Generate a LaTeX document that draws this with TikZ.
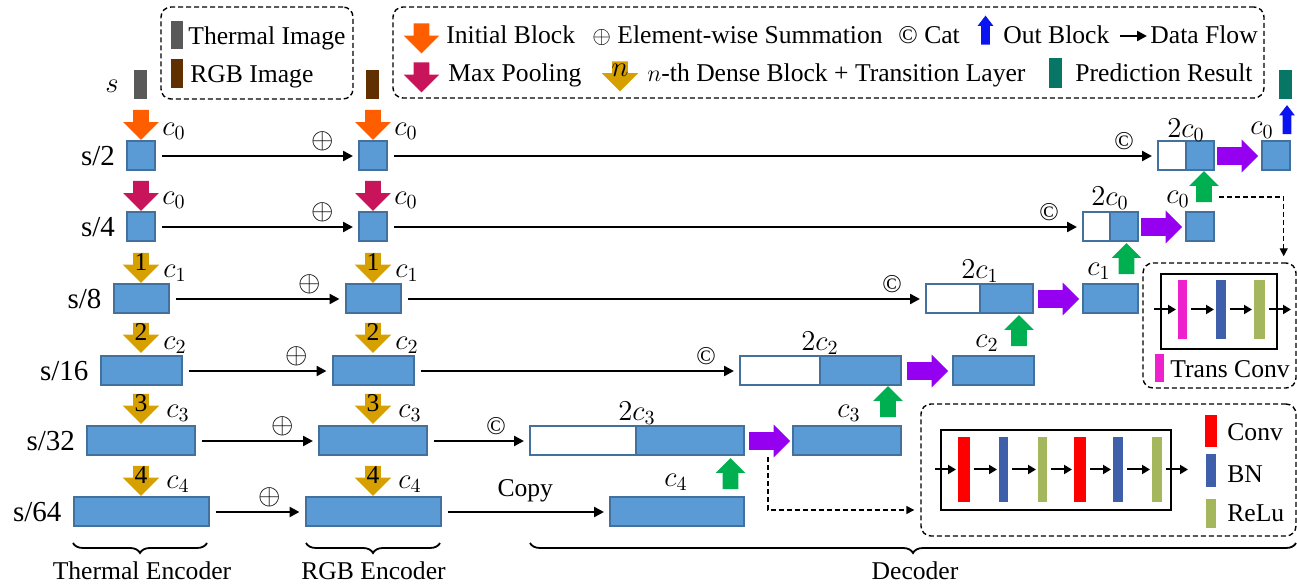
\documentclass[tikz,border=0pt]{standalone}
\usepackage{amsmath}
\usepackage{fontspec}
\setmainfont{Liberation Serif}
\usetikzlibrary{positioning}
\usetikzlibrary{calc}
\usetikzlibrary{arrows.meta}
\usetikzlibrary{shapes.arrows}
\usetikzlibrary{decorations.pathreplacing}

\definecolor{blkfill}{RGB}{91,155,213}
\definecolor{blkdraw}{RGB}{65,113,156}
\definecolor{initcol}{RGB}{255,94,0}
\definecolor{poolcol}{RGB}{200,20,90}
\definecolor{densecol}{RGB}{214,160,0}
\definecolor{upcol}{RGB}{0,176,80}
\definecolor{catcol}{RGB}{150,0,240}
\definecolor{outcol}{RGB}{10,20,240}
\definecolor{thermcol}{RGB}{89,89,89}
\definecolor{rgbcol}{RGB}{96,48,0}
\definecolor{predcol}{RGB}{8,118,100}
\definecolor{transcol}{RGB}{238,34,204}
\definecolor{convcol}{RGB}{255,0,0}
\definecolor{bncol}{RGB}{63,95,170}
\definecolor{relucol}{RGB}{165,183,93}

\tikzset{
  blk/.style={draw=blkdraw,fill=blkfill,line width=1pt,outer sep=0pt,inner sep=0pt,minimum height=14.5pt},
  catw/.style={blk,fill=white},
  bar/.style={inner sep=0pt,outer sep=0pt},
  flow/.style={-{Triangle[length=5pt,width=5pt]},line width=1.2pt,shorten <=3.5pt,shorten >=3pt},
  sflow/.style={-{Triangle[length=4pt,width=4.5pt]},line width=1pt,shorten <=2pt,shorten >=1pt},
  dflow/.style={-{Triangle[length=4pt,width=4pt]},line width=0.7pt,dash pattern=on 2.5pt off 1.5pt,shorten >=3pt},
  dbox/.style={draw,line width=0.7pt,dash pattern=on 2.5pt off 1.5pt,rounded corners=5pt,inner sep=0pt},
  sbox/.style={draw,line width=0.7pt,inner sep=0pt},
  fat/.style={single arrow,inner xsep=0pt,outer sep=0pt},
  initarr/.style={fat,fill=initcol,rotate=-90,inner ysep=3.75pt,minimum width=17.5pt,minimum height=15pt,single arrow head extend=5pt},
  poolarr/.style={fat,fill=poolcol,rotate=-90,inner ysep=3.75pt,minimum width=17.5pt,minimum height=15pt,single arrow head extend=5pt},
  densearr/.style={fat,fill=densecol,rotate=-90,inner ysep=3.75pt,minimum width=18pt,minimum height=15pt,single arrow head extend=5.25pt},
  uparr/.style={fat,fill=upcol,rotate=90,inner ysep=3.75pt,minimum width=14.5pt,minimum height=15.5pt,single arrow head extend=3.5pt},
  catarr/.style={fat,fill=catcol,inner ysep=4.25pt,minimum width=16pt,minimum height=20.5pt,single arrow head extend=3.75pt},
  outarr/.style={fat,fill=outcol,rotate=90,inner ysep=2pt,minimum width=7.5pt,minimum height=14.5pt,single arrow head extend=1.75pt,single arrow tip angle=75},
  lbl/.style={font=\fontsize{14.5}{17}\selectfont},
  scl/.style={font=\fontsize{14.5}{17}\selectfont},
  plussym/.style={pos=1,xshift=-18pt,yshift=7.5pt,inner sep=0pt,font=\fontsize{15}{17}\selectfont},
  catsym/.style={pos=1,xshift=-17pt,yshift=7.5pt,inner sep=0pt},
  txt/.style={inner sep=1.5pt,anchor=base west},
  brc/.style={decorate,decoration={brace,amplitude=5pt},line width=0.9pt}
}

\begin{document}
\begin{tikzpicture}[x=0.5pt,y=-0.5pt,font=\fontsize{12.8}{15}\selectfont]
  \useasboundingbox (0,0) rectangle (1297,587);
  % legends
  \node[dbox,minimum width=96pt,minimum height=46pt](leg1) at (257,53) {};
  \node[bar,fill=thermcol,minimum width=6pt,minimum height=14pt](lth) at (177,35) {};
  \node[txt](lthtxt) at (185,45) {Thermal Image};
  \node[bar,fill=rgbcol,minimum width=6pt,minimum height=14.5pt](lrgb) at (177,73.5) {};
  \node[txt](lrgbtxt) at (187,83) {RGB Image};
  \node[dbox,minimum width=435.5pt,minimum height=45.5pt](leg2) at (828.5,52.5) {};
  \node[initarr](linit) at (421.5,34.5) {};
  \node[txt](linittxt) at (443,44) {Initial Block};
  \node[txt](lsumtxt) at (589,44) {$\oplus$ Element-wise Summation};
  \node[txt](lcattxt) at (895,44) {© Cat};
  \node[outarr](lout) at (985.5,33) {};
  \node[txt](louttxt) at (1000,44) {Out Block};
  \coordinate (lfa) at (1120,36);
  \coordinate (lfb) at (1147,36);
  \draw[flow,shorten <=0pt,shorten >=0pt] (lfa)--(lfb);
  \node[txt](lflowtxt) at (1147,44) {Data Flow};
  \node[poolarr](lpool) at (421.5,73.5) {};
  \node[txt](lpooltxt) at (445,82) {Max Pooling};
  \node[densearr](ldense) at (620,72.5) {};
  \node[lbl](ln) at (620,70) {$n$};
  \node[txt](ldensetxt) at (644,82) {$n$-th Dense Block + Transition Layer};
  \node[bar,fill=predcol,minimum width=6.5pt,minimum height=15pt](lpred) at (1055.5,73) {};
  \node[txt](lpredtxt) at (1072,82) {Prediction Result};

  % thermal encoder
  \node[bar,fill=thermcol,minimum width=6.5pt,minimum height=14.5pt](timg) at (140.5,84.5) {};
  \node[lbl](ls) at (112,86) {$s$};
  \node[initarr](ti) at (141,121) {};
  \node[blk,minimum width=14pt](t2) at (141,156) {};
  \node[poolarr](tp) at (141,192) {};
  \node[blk,minimum width=14pt](t4) at (141,227) {};
  \node[densearr](td1) at (141,264) {};
  \node[blk,minimum width=27.5pt](t8) at (141,299) {};
  \node[densearr](td2) at (141,334) {};
  \node[blk,minimum width=40.5pt](t16) at (141,371) {};
  \node[densearr](td3) at (141,405) {};
  \node[blk,minimum width=54pt](t32) at (141,441) {};
  \node[densearr](td4) at (141,477) {};
  \node[blk,minimum width=67.5pt](t64) at (141,512) {};
  \node(tn1) at (141,262) {1};
  \node(tn2) at (141,332) {2};
  \node(tn3) at (141,403) {3};
  \node(tn4) at (141,475) {4};
  \node[lbl](tc0a) at (174,131) {$c_0$};
  \node[lbl](tc0b) at (174,200) {$c_0$};
  \node[lbl](tc1) at (175,273) {$c_1$};
  \node[lbl](tc2) at (175,345) {$c_2$};
  \node[lbl](tc3) at (178,413) {$c_3$};
  \node[lbl](tc4) at (178,484) {$c_4$};
  \node[scl,left=2.5pt of t2](s2) {s/2};
  \node[scl,left=2.5pt of t4](s4) {s/4};
  \node[scl,left=2.5pt of t8](s8) {s/8};
  \node[scl,left=2.5pt of t16](s16) {s/16};
  \node[scl,left=2.5pt of t32](s32) {s/32};
  \node[scl,left=2.5pt of t64](s64) {s/64};

  % rgb encoder
  \node[bar,fill=rgbcol,minimum width=6.5pt,minimum height=14.5pt](rimg) at (372.5,84.5) {};
  \node[initarr](ri) at (373,121) {};
  \node[blk,minimum width=14pt](r2) at (373,156) {};
  \node[poolarr](rp) at (373,192) {};
  \node[blk,minimum width=14pt](r4) at (373,227) {};
  \node[densearr](rd1) at (373,264) {};
  \node[blk,minimum width=27.5pt](r8) at (373,299) {};
  \node[densearr](rd2) at (373,334) {};
  \node[blk,minimum width=40.5pt](r16) at (373,371) {};
  \node[densearr](rd3) at (373,405) {};
  \node[blk,minimum width=54pt](r32) at (373,441) {};
  \node[densearr](rd4) at (373,477) {};
  \node[blk,minimum width=67.5pt](r64) at (373,512) {};
  \node(rn1) at (373,262) {1};
  \node(rn2) at (373,332) {2};
  \node(rn3) at (373,403) {3};
  \node(rn4) at (373,475) {4};
  \node[lbl](rc0a) at (406,131) {$c_0$};
  \node[lbl](rc0b) at (406,200) {$c_0$};
  \node[lbl](rc1) at (407,273) {$c_1$};
  \node[lbl](rc2) at (407,345) {$c_2$};
  \node[lbl](rc3) at (410,413) {$c_3$};
  \node[lbl](rc4) at (410,484) {$c_4$};

  \draw[flow] (t2)-- node[plussym](p2) {$\oplus$} (r2);
  \draw[flow] (t4)-- node[plussym](p4) {$\oplus$} (r4);
  \draw[flow] (t8)-- node[plussym](p8) {$\oplus$} (r8);
  \draw[flow] (t16)-- node[plussym](p16) {$\oplus$} (r16);
  \draw[flow] (t32)-- node[plussym](p32) {$\oplus$} (r32);
  \draw[flow] (t64)-- node[plussym](p64) {$\oplus$} (r64);

  % decoder
  \node[catw,minimum width=14pt](w2) at (1172,156) {};
  \node[blk,minimum width=14pt,right=0pt of w2](b2) {};
  \node[catarr,right=1.5pt of b2](q2) {};
  \node[blk,minimum width=14pt,right=2pt of q2](o2) {};
  \node[catw,minimum width=13.5pt](w4) at (1096.5,227) {};
  \node[blk,minimum width=14pt,right=0pt of w4](b4) {};
  \node[catarr,right=1.5pt of b4](q4) {};
  \node[blk,minimum width=14pt,right=2pt of q4](f4) {};
  \node[catw,minimum width=27pt](w8) at (953,299) {};
  \node[blk,minimum width=26.5pt,right=0pt of w8](b8) {};
  \node[catarr,right=2.5pt of b8](q8) {};
  \node[blk,minimum width=27.5pt,right=2pt of q8](f8) {};
  \node[catw,minimum width=40pt](w16) at (780,371) {};
  \node[blk,minimum width=40.5pt,right=0pt of w16](b16) {};
  \node[catarr,right=3pt of b16](q16) {};
  \node[blk,minimum width=40.5pt,right=2.5pt of q16](f16) {};
  \node[catw,minimum width=53pt](w32) at (583,441) {};
  \node[blk,minimum width=54pt,right=0pt of w32](b32) {};
  \node[catarr,right=2.5pt of b32](q32) {};
  \node[blk,minimum width=54pt,right=1.5pt of q32](f32) {};
  \node[blk,minimum width=67pt](d64) at (677,512) {};

  \node[outarr](g2) at (1287,122.5) {};
  \node[bar,fill=predcol,minimum width=6.5pt,minimum height=14.5pt](pred) at (1285.5,84.5) {};
  \node[uparr](g4) at (1204,190.5) {};
  \node[uparr](g8) at (1126.5,262.5) {};
  \node[uparr](g16) at (1019,334.5) {};
  \node[uparr](g32) at (888,405.5) {};
  \node[uparr](g64) at (730.5,477.5) {};

  \node[lbl](dl2a) at (1186,130) {$2c_0$};
  \node[lbl](dl2b) at (1262,130) {$c_0$};
  \node[lbl](dl4a) at (1110,198) {$2c_0$};
  \node[lbl](dl4b) at (1178,199) {$c_0$};
  \node[lbl](dl8a) at (980,271) {$2c_1$};
  \node[lbl](dl8b) at (1099,271) {$c_1$};
  \node[lbl](dl16a) at (820,343) {$2c_2$};
  \node[lbl](dl16b) at (987,343) {$c_2$};
  \node[lbl](dl32a) at (637,413) {$2c_3$};
  \node[lbl](dl32b) at (849,413) {$c_3$};
  \node[lbl](dl64) at (676,482) {$c_4$};

  \draw[flow] (r2)-- node[catsym](k2) {©} (w2);
  \draw[flow] (r4)-- node[catsym](k4) {©} (w4);
  \draw[flow] (r8)-- node[catsym](k8) {©} (w8);
  \draw[flow] (r16)-- node[catsym](k16) {©} (w16);
  \draw[flow] (r32)-- node[catsym](k32) {©} (w32);
  \draw[flow] (r64)-- node[midway,above=1pt](cp) {Copy} (d64);

  % trans conv block
  \node[dbox,minimum width=76.5pt,minimum height=62.5pt](trans) at (1219.5,325.5) {};
  \node[sbox,minimum width=58pt,minimum height=37.5pt](tinner) at (1219,311.5) {};
  \node[bar,fill=transcol,minimum width=4.5pt,minimum height=29.5pt](tb1) at (1182.5,309.5) {};
  \node[bar,fill=bncol,minimum width=5pt,minimum height=29.5pt](tb2) at (1221,309.5) {};
  \node[bar,fill=relucol,minimum width=5.5pt,minimum height=29.5pt](tb3) at (1259.5,309.5) {};
  \coordinate (tin) at (1150,309.5);
  \coordinate (tout) at (1293,309.5);
  \draw[sflow] (tin)--(tb1);
  \draw[sflow] (tb1)--(tb2);
  \draw[sflow] (tb2)--(tb3);
  \draw[sflow] (tb3)--(tout);
  \node[bar,fill=transcol,minimum width=4.5pt,minimum height=14pt](tleg) at (1159.5,368) {};
  \node[txt](tlegtxt) at (1167,378) {Trans Conv};

  % conv block
  \node[dbox,minimum width=187.5pt,minimum height=66pt](conv) at (1108.5,470) {};
  \node[sbox,minimum width=115pt,minimum height=40pt](cinner) at (1056,470) {};
  \node[bar,fill=convcol,minimum width=6pt,minimum height=32.5pt](cb1) at (964,469.5) {};
  \node[bar,fill=bncol,minimum width=4.5pt,minimum height=32.5pt](cb2) at (1003.5,469.5) {};
  \node[bar,fill=relucol,minimum width=4.5pt,minimum height=32.5pt](cb3) at (1042.5,469.5) {};
  \node[bar,fill=convcol,minimum width=6pt,minimum height=32.5pt](cb4) at (1080,469.5) {};
  \node[bar,fill=bncol,minimum width=5pt,minimum height=32.5pt](cb5) at (1118,469.5) {};
  \node[bar,fill=relucol,minimum width=5pt,minimum height=32.5pt](cb6) at (1157,469.5) {};
  \coordinate (cin) at (931,469.5);
  \coordinate (cout) at (1190,469.5);
  \draw[sflow] (cin)--(cb1);
  \draw[sflow] (cb1)--(cb2);
  \draw[sflow] (cb2)--(cb3);
  \draw[sflow] (cb3)--(cb4);
  \draw[sflow] (cb4)--(cb5);
  \draw[sflow] (cb5)--(cb6);
  \draw[sflow] (cb6)--(cout);
  \node[bar,fill=convcol,minimum width=6pt,minimum height=16pt](cl1) at (1211,431) {};
  \node[txt](cl1txt) at (1224,441) {Conv};
  \node[bar,fill=bncol,minimum width=5pt,minimum height=16.5pt](cl2) at (1211,470.5) {};
  \node[txt](cl2txt) at (1224,483) {BN};
  \node[bar,fill=relucol,minimum width=5pt,minimum height=14.5pt](cl3) at (1211,513.5) {};
  \node[txt](cl3txt) at (1224,522) {ReLu};

  \draw[dflow] ($(g4)+(15,6.5)$) -| ($(trans.north east)+(-13,0)$);
  \draw[dflow] ($(q32)+(3,16)$) |- ($(conv.west)+(0,40)$);

  % braces
  \draw[brc] (207,543)--(73,543);
  \draw[brc] (440,543)--(306,543);
  \draw[brc] (1296,543)--(530,543);
  \node[anchor=base](tenc) at (142,580) {Thermal Encoder};
  \node[anchor=base](renc) at (373.5,580) {RGB Encoder};
  \node[anchor=base](dec) at (915,580) {Decoder};
\end{tikzpicture}
\end{document}
